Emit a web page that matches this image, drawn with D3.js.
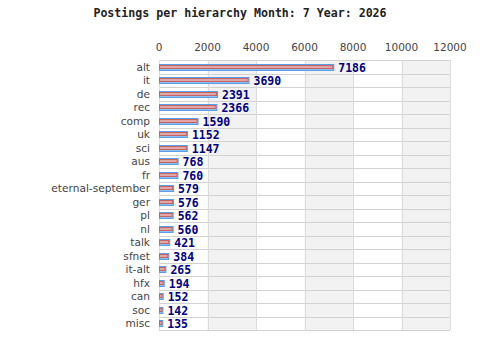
<!DOCTYPE html>
<html>
<head>
<meta charset="utf-8">
<script src="https://cdn.jsdelivr.net/npm/d3@7"></script>
<style>
  body { margin: 0; background: #fff; }
</style>
</head>
<body>
<div id="chart"></div>
<script>
const hierarchies = ["alt", "it", "de", "rec", "comp", "uk", "sci", "aus", "fr", "eternal-september",
  "ger", "pl", "nl", "talk", "sfnet", "it-alt", "hfx", "can", "soc", "misc"];
const postings = [7186, 3690, 2391, 2366, 1590, 1152, 1147, 768, 760, 579,
  576, 562, 560, 421, 384, 265, 194, 152, 142, 135];
const xTicks = [0, 2000, 4000, 6000, 8000, 10000, 12000];

const data = hierarchies.map((h, i) => ({ name: h, total: postings[i] }));

const W = 480, H = 360;
const plotL = 159, plotR = 450, plotT = 60, plotB = 330;

const svg = d3.select("#chart").append("svg")
  .attr("width", W).attr("height", H);

svg.append("text")
  .attr("x", 240).attr("y", 17)
  .attr("text-anchor", "middle")
  .attr("font-family", "DejaVu Sans Mono, monospace")
  .attr("font-weight", "bold")
  .attr("font-size", "11.6px")
  .attr("fill", "#222")
  .text("Postings per hierarchy Month: 7 Year: 2026");

const x = d3.scaleLinear().domain([0, 12000]).range([plotL, plotR]);
const y = d3.scaleBand().domain(hierarchies).range([plotT, plotB]);

// alternating vertical bands
const bands = xTicks.slice(0, -1);
svg.selectAll(".band").data(bands).enter().append("rect")
  .attr("x", d => x(d))
  .attr("y", plotT)
  .attr("width", d => x(d + 2000) - x(d))
  .attr("height", plotB - plotT)
  .attr("fill", (d, i) => i % 2 ? "#f2f2f2" : "#ffffff");

// horizontal grid lines at row boundaries
const hLines = hierarchies.map(h => y(h)).concat([plotB]);
svg.selectAll(".hgrid").data(hLines).enter().append("line")
  .attr("x1", plotL).attr("x2", plotR)
  .attr("y1", d => Math.round(d) + 0.5).attr("y2", d => Math.round(d) + 0.5)
  .attr("stroke", "#d2d2d2");

// vertical grid lines
svg.selectAll(".vgrid").data(xTicks).enter().append("line")
  .attr("x1", d => Math.round(x(d)) + 0.5).attr("x2", d => Math.round(x(d)) + 0.5)
  .attr("y1", plotT).attr("y2", plotB)
  .attr("stroke", "#dcdcdc");

// x axis labels on top
svg.selectAll(".xlab").data(xTicks).enter().append("text")
  .attr("x", d => x(d))
  .attr("y", 51)
  .attr("text-anchor", "middle")
  .attr("font-family", "DejaVu Sans, sans-serif")
  .attr("font-size", "10.5px")
  .attr("fill", "#444")
  .text(d => d);

// category labels
svg.selectAll(".ylab").data(data).enter().append("text")
  .attr("x", 150)
  .attr("y", d => y(d.name) + y.bandwidth() / 2 + 4)
  .attr("text-anchor", "end")
  .attr("font-family", "DejaVu Sans, sans-serif")
  .attr("font-size", "10.6px")
  .attr("fill", "#444")
  .text(d => d.name);

const rows = svg.selectAll(".row").data(data).enter().append("g")
  .attr("transform", d => `translate(0,${Math.round(y(d.name) + y.bandwidth() / 2) + 1})`);

// blue back bar
rows.append("rect")
  .attr("x", plotL + 0.5)
  .attr("y", -3.5)
  .attr("width", d => x(d.total) - plotL)
  .attr("height", 6)
  .attr("fill", "#8fc0f2")
  .attr("stroke", "#5a9ee8");

// pink front bar
rows.append("rect")
  .attr("x", plotL + 0.5)
  .attr("y", -2.5)
  .attr("width", d => x(d.total) - plotL - 1)
  .attr("height", 3)
  .attr("fill", "#e3a5a5")
  .attr("stroke", "#c06464");

// value labels
rows.append("text")
  .attr("x", d => x(d.total) + 5)
  .attr("y", 4)
  .attr("font-family", "DejaVu Sans Mono, monospace")
  .attr("font-weight", "bold")
  .attr("font-size", "11.5px")
  .attr("fill", "#000080")
  .text(d => d.total);
</script>
</body>
</html>
